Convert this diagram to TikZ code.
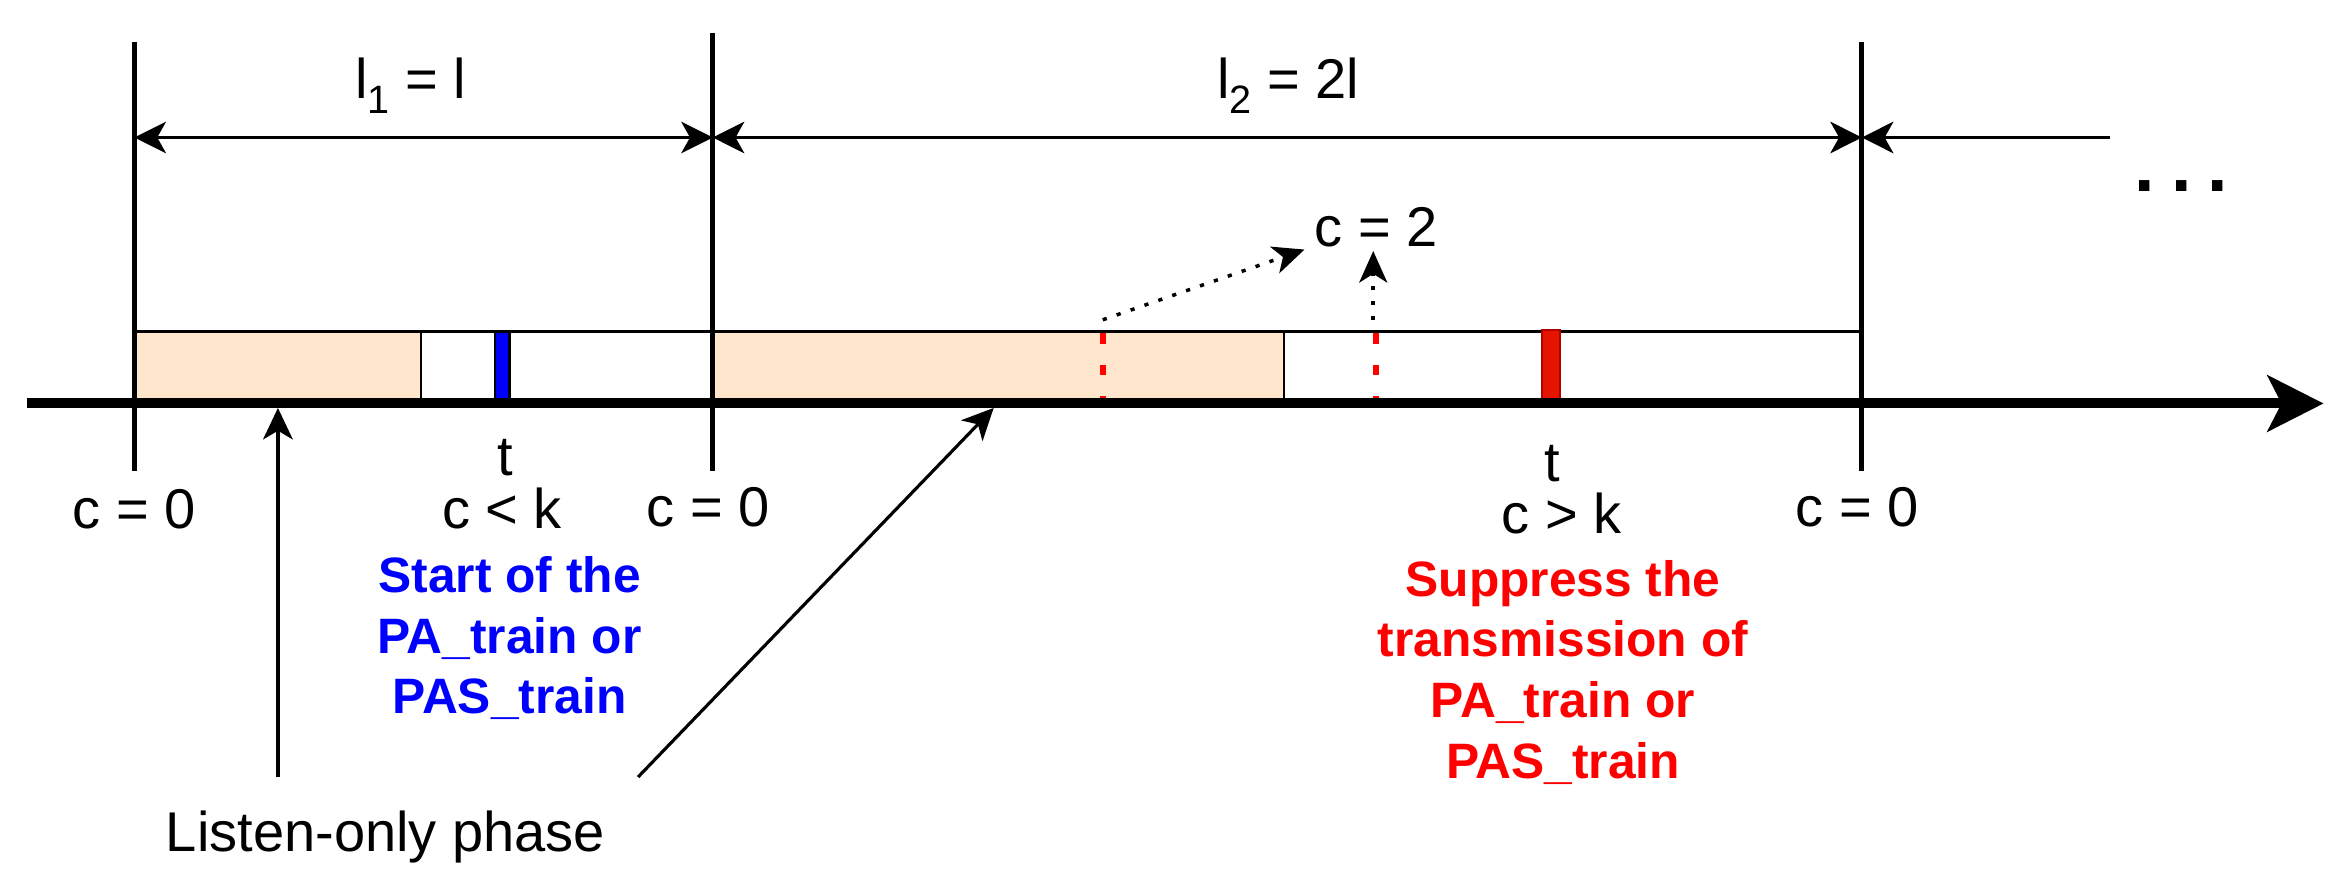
\documentclass[tikz,border=0pt]{standalone}
\usepackage{fontspec}
\setmainfont{Liberation Sans}
\usetikzlibrary{arrows.meta}
\definecolor{peach}{HTML}{FFE6CC}
\definecolor{redfill}{HTML}{E51400}
\definecolor{redline}{HTML}{B20000}
\begin{document}
\begin{tikzpicture}[x=0.015cm,y=-0.015cm,
  lbl/.style={inner sep=0pt, font=\fontsize{16}{19}\selectfont, anchor=base},
  note/.style={inner sep=0pt, align=center, font=\fontsize{14.2}{17.4}\selectfont\bfseries},
  vline/.style={line width=1.45pt},
  dimarrow/.style={line width=0.95pt, {Stealth[length=9pt,width=9pt,inset=2.5pt]}-{Stealth[length=9pt,width=9pt,inset=2.5pt]}},
  dimhalf/.style={line width=0.95pt, {Stealth[length=9pt,width=9pt,inset=2.5pt]}-},
  ptr/.style={line width=0.9pt, -{Stealth[length=9pt,width=8.5pt,inset=2.5pt]}},
  dotptr/.style={line width=1pt, dash pattern=on 1.2pt off 3pt, -{Stealth[length=9pt,width=8pt,inset=2.5pt]}},
  reddash/.style={draw=red, line width=1.6pt, dash pattern=on 3pt off 6pt},
  phasebox/.style={fill=peach, draw=black, line width=0.6pt}]
\path[use as bounding box] (0,0) rectangle (1568,588);

% coordinates
\coordinate (v1t) at (90,28);   \coordinate (v1b) at (90,315);
\coordinate (v2t) at (477,22);  \coordinate (v2b) at (477,315);
\coordinate (v3t) at (1246,28); \coordinate (v3b) at (1246,315);
\coordinate (d1) at (90,92); \coordinate (d2) at (477,92);
\coordinate (d3) at (1246,92); \coordinate (d4) at (1412,92);
\coordinate (ax0) at (18,270); \coordinate (ax1) at (1555,270);

% slot rectangle
\draw[line width=0.95pt, fill=white] (90,222) rectangle (1246,268);
\draw[phasebox] (90,222) rectangle (282,268);
\draw[phasebox] (477,222) rectangle (859,268);
\draw[line width=0.95pt] (90,222) -- (1246,222);

% red dashed markers
\draw[reddash] (738,223) -- (738,268);
\draw[reddash] (921,223) -- (921,268);

% bars
\draw[fill=blue, draw=black, line width=0.6pt] (331,222) rectangle (341,270);
\draw[fill=redfill, draw=redline, line width=0.6pt] (1032,221) rectangle (1044,271);

% time axis
\draw[line width=2.85pt, -{Stealth[length=16pt,width=16pt,inset=4pt]}] (ax0) -- (ax1);

% vertical boundaries
\draw[vline] (v1t) -- (v1b);
\draw[vline] (v2t) -- (v2b);
\draw[vline] (v3t) -- (v3b);

% dimension arrows
\draw[dimarrow] (d1) -- (d2);
\draw[dimarrow] (d2) -- (d3);
\draw[dimhalf] (d3) -- (d4);

% top labels
\node[lbl] (l1) at (275,66) {l\raisebox{-4.3pt}{\fontsize{11.3}{13}\selectfont 1} = l};
\node[lbl] (l2) at (862,66) {l\raisebox{-4.3pt}{\fontsize{11.3}{13}\selectfont 2} = 2l};
\node[inner sep=0pt, anchor=base, font=\fontsize{21}{24}\selectfont\bfseries] (dots) at (1460,128) {.\hspace{4.6pt}.\hspace{4.6pt}.};
\node[lbl] (c2) at (921,165) {c = 2};

% dotted pointers
\coordinate (dA) at (738,214); \coordinate (dAt) at (873,167);
\coordinate (dB) at (919,214); \coordinate (dBt) at (919,168);
\draw[dotptr] (dA) -- (dAt);
\draw[dotptr] (dB) -- (dBt);

% bottom labels
\node[lbl] (c0a) at (90,354) {c = 0};
\node[lbl] (tA) at (338,318) {t};
\node[lbl] (cltk) at (336,354) {c < k};
\node[lbl] (c0b) at (474,352) {c = 0};
\node[lbl] (tB) at (1039,322) {t};
\node[lbl] (cgtk) at (1045,357) {c > k};
\node[lbl] (c0c) at (1243,352) {c = 0};

\node[note, text=blue] (start) at (341,427) {Start of the\\PA\_train or\\PAS\_train};
\node[note, text=red] (supp) at (1046,450) {Suppress the\\transmission of\\PA\_train or\\PAS\_train};

\node[lbl] (listen) at (258,570) {Listen-only phase};
\coordinate (la1) at (186,520); \coordinate (lt1) at (186,273);
\coordinate (la2) at (427,520); \coordinate (lt2) at (665,273);
\draw[ptr] (la1) -- (lt1);
\draw[ptr] (la2) -- (lt2);
\end{tikzpicture}
\end{document}
